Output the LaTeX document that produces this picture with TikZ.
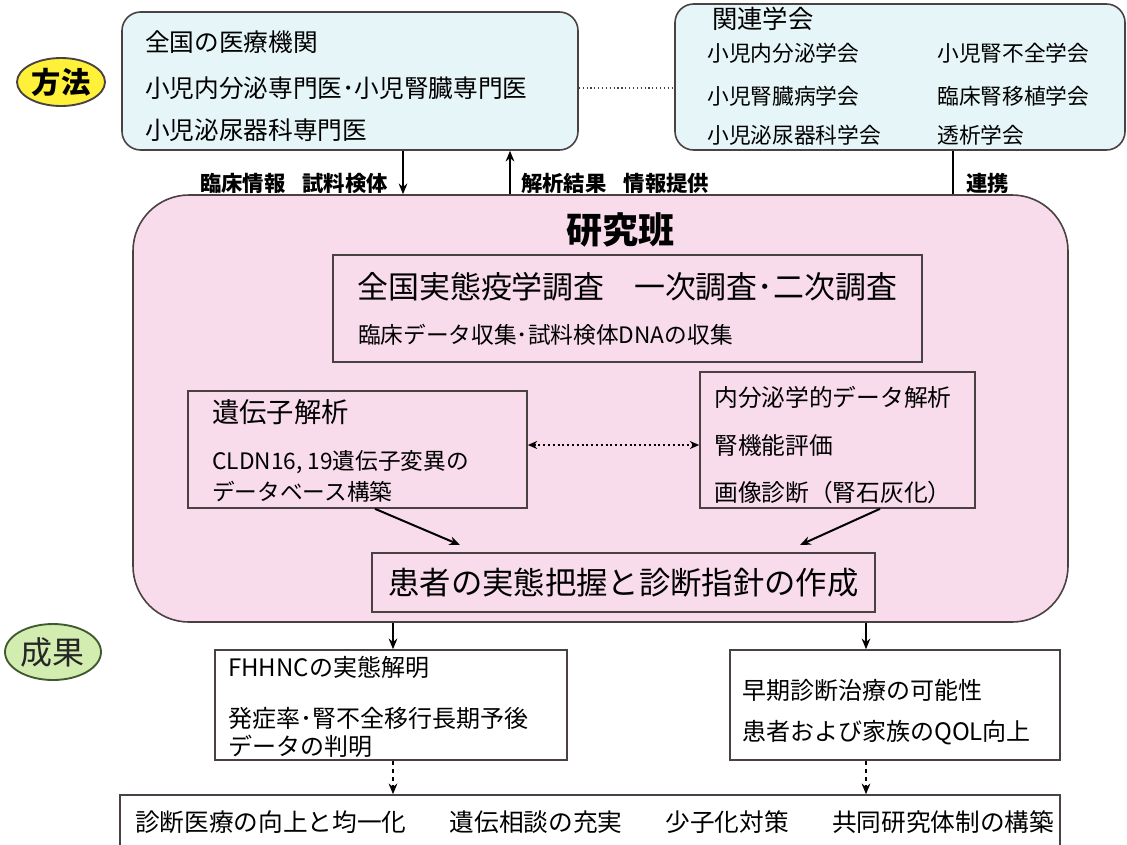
\documentclass[tikz,border=0pt]{standalone}
\usepackage{fontspec}
\setmainfont{Noto Sans CJK JP}
\usetikzlibrary{shapes.geometric,arrows.meta}
\definecolor{edge}{HTML}{4A4242}
\definecolor{bluefill}{HTML}{E6F5F7}
\definecolor{pinkfill}{HTML}{F8DCEC}
\definecolor{yellowfill}{HTML}{FFF03A}
\definecolor{greenfill}{HTML}{D3ECB0}
\definecolor{greenedge}{HTML}{3F5A2E}
\newcommand{\fsz}[1]{\fontsize{#1pt}{#1pt}\selectfont}
\begin{document}
\begin{tikzpicture}[x=0.75pt,y=-0.75pt,
  sz/.style n args={2}{minimum width=#1*0.75pt, minimum height=#2*0.75pt},
  box/.style={draw=edge, line width=1.2pt, inner sep=0pt},
  rbox/.style={box, rounded corners=14pt},
  txt/.style={anchor=west, inner sep=0pt, text=black},
  lbl/.style={inner sep=0pt, text=black, font=\fsz{16}\bfseries},
  arr/.style={draw=black, line width=1.5pt, -{Stealth[length=8pt,width=6.5pt]}},
  oval/.style={ellipse, draw=edge, line width=1.4pt, inner sep=0pt}
]
\clip (0,0) rectangle (1127,844);
\fill[white] (0,0) rectangle (1127,844);

% ovals
\node[oval, fill=yellowfill, sz={88}{48}, font=\fsz{22}\bfseries] (hoho) at (61,82) {方法};
\node[oval, draw=greenedge, fill=greenfill, sz={96}{56}, font=\fsz{24}, text=black!85] (seika) at (53,652) {成果};

% top boxes
\node[rbox, fill=bluefill, sz={456}{138}] (med) at (350,81) {};
\node[txt, font=\fsz{18.5}] (med1) at (145,42) {全国の医療機関};
\node[txt, font=\fsz{18.5}] (med2) at (145,88) {小児内分泌専門医･小児腎臓専門医};
\node[txt, font=\fsz{18.5}] (med3) at (145,130) {小児泌尿器科専門医};

\node[rbox, fill=bluefill, sz={450}{146}] (soc) at (900,77) {};
\node[txt, font=\fsz{19}] (soc0) at (712,19) {関連学会};
\node[txt, font=\fsz{16.3}] (soca) at (707,53) {小児内分泌学会};
\node[txt, font=\fsz{16.3}] (socb) at (937,53) {小児腎不全学会};
\node[txt, font=\fsz{16.3}] (socc) at (707,96) {小児腎臓病学会};
\node[txt, font=\fsz{16.3}] (socd) at (937,96) {臨床腎移植学会};
\node[txt, font=\fsz{16.3}] (soce) at (707,135) {小児泌尿器科学会};
\node[txt, font=\fsz{16.3}] (socf) at (937,135) {透析学会};

\draw[edge, dotted, line width=0.9pt] (med.east |- med2) -- (soc.west |- med2);

% research team
\node[box, fill=pinkfill, rounded corners=42pt, sz={935}{427}] (team) at (600.5,408.5) {};
\node[inner sep=0pt, font=\fsz{27}\bfseries] (teamt) at (620,230) {研究班};

\coordinate (c1) at (403,0);
\coordinate (c2) at (510,0);
\coordinate (c3) at (953,0);
\draw[arr] (c1 |- med.south) -- (c1 |- team.north);
\draw[arr] (c2 |- team.north) -- (c2 |- med.south);
\draw[draw=black, line width=1.5pt] (c3 |- soc.south) -- (c3 |- team.north);
\node[lbl, anchor=east] (l1) at (388,183) {臨床情報\hspace{0.8em}試料検体};
\node[lbl, anchor=west] (l2) at (521,183) {解析結果\hspace{0.8em}情報提供};
\node[lbl, anchor=west] (l3) at (966,183) {連携};

\node[box, sz={589}{107}] (survey) at (627.5,308.5) {};
\node[txt, font=\fsz{23.2}] (sv1) at (357,287) {全国実態疫学調査\hspace{0.95em}一次調査･二次調査};
\node[txt, font=\fsz{17}] (sv2) at (358,335) {臨床データ収集･試料検体DNAの収集};

\node[box, sz={339}{117}] (gene) at (357.5,449.5) {};
\node[txt, font=\fsz{20.5}] (g1) at (212,412) {遺伝子解析};
\node[txt, font=\fsz{17}] (g2) at (212,462) {CLDN16, 19遺伝子変異の};
\node[txt, font=\fsz{17}] (g3) at (212,492) {データベース構築};

\node[box, sz={275}{136}] (endo) at (837.5,440) {};
\node[txt, font=\fsz{17.8}] (e1) at (714,397) {内分泌学的データ解析};
\node[txt, font=\fsz{17.8}] (e2) at (714,445) {腎機能評価};
\node[txt, font=\fsz{17.8}] (e3) at (714,492) {画像診断（腎石灰化）};

\draw[black, dotted, line width=1.6pt, {Stealth[length=7pt,width=6pt]}-{Stealth[length=7pt,width=6pt]}] (gene.east |- e2) -- (endo.west |- e2);

\node[box, sz={503}{59}, font=\fsz{23.5}] (res) at (623.5,582.5) {患者の実態把握と診断指針の作成};

\coordinate (a1) at (375,0);
\coordinate (a2) at (880,0);
\draw[arr] (a1 |- gene.south) -- (460,545);
\draw[arr] (a2 |- endo.south) -- (800,545);

% outcomes
\node[box, fill=white, sz={352}{110}] (out1) at (391,705) {};
\node[txt, font=\fsz{18}] (o1) at (228,667) {FHHNCの実態解明};
\node[txt, font=\fsz{18}] (o2) at (228,718) {発症率･腎不全移行長期予後};
\node[txt, font=\fsz{18}] (o3) at (228,746) {データの判明};

\node[box, fill=white, sz={330}{110}] (out2) at (895,705) {};
\node[txt, font=\fsz{18}] (p1) at (742,690) {早期診断治療の可能性};
\node[txt, font=\fsz{18}] (p2) at (742,733) {患者および家族のQOL向上};

\coordinate (d1) at (393,0);
\coordinate (d2) at (866,0);
\draw[arr] (d1 |- team.south) -- (d1 |- out1.north);
\draw[arr] (d2 |- team.south) -- (d2 |- out2.north);

\node[box, fill=white, sz={940}{70}] (final) at (590,830) {};
\node[txt, font=\fsz{18.5}] (f1) at (135,822) {診断医療の向上と均一化\hspace{1.75em}遺伝相談の充実\hspace{1.75em}少子化対策\hspace{1.75em}共同研究体制の構築};

\draw[arr, line width=1.2pt, dashed] (d1 |- out1.south) -- (d1 |- final.north);
\draw[arr, line width=1.2pt, dashed] (d2 |- out2.south) -- (d2 |- final.north);
\end{tikzpicture}
\end{document}
